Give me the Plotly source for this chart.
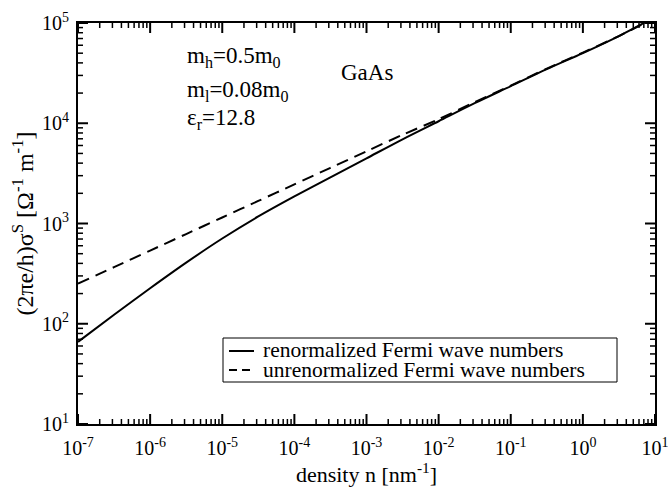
import plotly.graph_objects as go

# density n [nm^-1]
density = [1e-7, 3.16e-7, 1e-6, 3.16e-6, 1e-5, 3.16e-5, 1e-4, 3.16e-4, 1e-3,
           3.16e-3, 1e-2, 3.16e-2, 1e-1, 3.16e-1, 1e0, 3.16e0, 1e1]
# (2 pi e / h) sigma^S [Ohm^-1 m^-1]
sigma_renorm = [66, 123, 226, 407, 708, 1175, 1862, 2884, 4467,
                6918, 10470, 15850, 23440, 34670, 50120, 74130, 114800]
sigma_unrenorm = [251, 367, 537, 785, 1148, 1679, 2455, 3589, 5248,
                  7674, 10960, 16220, 23710, 35080, 50700, 74130, 112200]

x_major = [1e-7, 1e-6, 1e-5, 1e-4, 1e-3, 1e-2, 1e-1, 1e0, 1e1]
x_major_text = ["10<sup>-7</sup>", "10<sup>-6</sup>", "10<sup>-5</sup>", "10<sup>-4</sup>",
                "10<sup>-3</sup>", "10<sup>-2</sup>", "10<sup>-1</sup>", "10<sup>0</sup>",
                "10<sup>1</sup>"]
y_major = [1e1, 1e2, 1e3, 1e4, 1e5]
y_major_text = ["10<sup>1</sup>", "10<sup>2</sup>", "10<sup>3</sup>", "10<sup>4</sup>",
                "10<sup>5</sup>"]
x_minor = [m * 10 ** k for k in range(-7, 1) for m in range(2, 10)]
y_minor = [m * 10 ** k for k in range(1, 5) for m in range(2, 10)]

legend_names = ["renormalized Fermi wave numbers", "unrenormalized Fermi wave numbers"]

FONT = "Liberation Serif"

X_RANGE = [-7, 1]
Y_RANGE = [1, 5]
L, R, T, B = 78, 13, 23, 63
W, H = 668, 487
pw, ph = W - L - R, H - T - B
# pixels per decade on each axis
x_dec_px = pw / (X_RANGE[1] - X_RANGE[0])
y_dec_px = ph / (Y_RANGE[1] - Y_RANGE[0])

fig = go.Figure()


def add_ticks(vals, length_px, width):
    # inside tick marks on all four sides, expressed in the axes' data space
    xs, ys = [], []
    dy = 10 ** (length_px / y_dec_px)
    dx = 10 ** (length_px / x_dec_px)
    ylo, yhi = 10 ** Y_RANGE[0], 10 ** Y_RANGE[1]
    xlo, xhi = 10 ** X_RANGE[0], 10 ** X_RANGE[1]
    for v in vals[0]:
        xs += [v, v, None, v, v, None]
        ys += [ylo, ylo * dy, None, yhi, yhi / dy, None]
    for v in vals[1]:
        xs += [xlo, xlo * dx, None, xhi, xhi / dx, None]
        ys += [v, v, None, v, v, None]
    fig.add_trace(go.Scatter(x=xs, y=ys, mode="lines", line=dict(color="black", width=width),
                             hoverinfo="skip", showlegend=False, connectgaps=False,
                             cliponaxis=False))


add_ticks((x_major, y_major), 10, 2)
add_ticks((x_minor, y_minor), 5, 1.5)

fig.add_trace(go.Scatter(x=density, y=sigma_renorm, mode="lines",
                         line=dict(color="black", width=2, shape="spline", smoothing=0.8),
                         name=legend_names[0], showlegend=False))
fig.add_trace(go.Scatter(x=density, y=sigma_unrenorm, mode="lines",
                         line=dict(color="black", width=2, dash="12px,7px",
                                   shape="spline", smoothing=0.8),
                         name=legend_names[1], showlegend=False))

common = dict(type="log", showgrid=False, zeroline=False, automargin=False,
              showline=True, linecolor="black", linewidth=2, mirror=True,
              ticks="", ticklabeloverflow="allow",
              tickfont=dict(family=FONT, size=20, color="black"))

fig.update_xaxes(**common, range=X_RANGE, tickvals=x_major, ticktext=x_major_text,
                 ticklabelstandoff=5,
                 title=dict(text="density n [nm<sup>-1</sup>]",
                            font=dict(family=FONT, size=22, color="black"), standoff=9))
fig.update_yaxes(**common, range=Y_RANGE, tickvals=y_major, ticktext=y_major_text,
                 ticklabelstandoff=3,
                 title=dict(text="(2πe/h)σ<sup>S</sup> [Ω<sup>-1</sup> m<sup>-1</sup>]",
                            font=dict(family=FONT, size=24, color="black"), standoff=2))


def px(xp):
    return (xp - L) / pw


def py(yp):
    return 1 - (yp - T) / ph


ann_font = dict(family=FONT, size=23, color="black")
labels = [
    (185, 57, "m<sub>h</sub>=0.5m<sub>0</sub>", "left"),
    (185, 91, "m<sub>l</sub>=0.08m<sub>0</sub>", "left"),
    (185, 119, "ε<sub>r</sub>=12.8", "left"),
    (367, 72, "GaAs", "center"),
]
for xp, yp, txt, anc in labels:
    fig.add_annotation(x=px(xp), y=py(yp), xref="paper", yref="paper", text=txt,
                       showarrow=False, font=ann_font, xanchor=anc, yanchor="middle")

# legend box (drawn as layout decoration)
fig.add_shape(type="rect", xref="paper", yref="paper",
              x0=px(223), x1=px(617), y0=py(382), y1=py(338),
              line=dict(color="black", width=1), fillcolor="white", layer="above")
fig.add_shape(type="line", xref="paper", yref="paper",
              x0=px(229), x1=px(254), y0=py(351), y1=py(351),
              line=dict(color="black", width=2), layer="above")
fig.add_shape(type="line", xref="paper", yref="paper",
              x0=px(229), x1=px(254), y0=py(370), y1=py(370),
              line=dict(color="black", width=2, dash="8px,5px"), layer="above")
for yp, txt in [(350, legend_names[0]), (370, legend_names[1])]:
    fig.add_annotation(x=px(262), y=py(yp), xref="paper", yref="paper", text=txt,
                       showarrow=False, font=dict(family=FONT, size=21.5, color="black"),
                       xanchor="left", yanchor="middle", borderpad=0)

fig.update_layout(
    width=W, height=H,
    margin=dict(l=L, r=R, t=T, b=B),
    paper_bgcolor="white", plot_bgcolor="white",
    font=dict(family=FONT, color="black"),
    showlegend=False,
)

fig.write_html("out.html")
